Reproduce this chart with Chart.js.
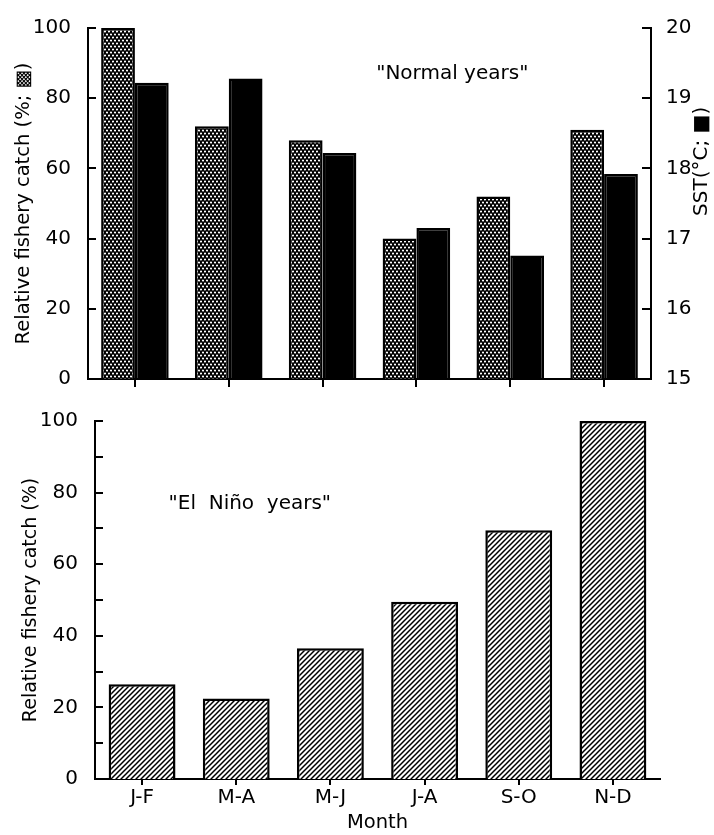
<!DOCTYPE html>
<html>
<head>
<meta charset="utf-8">
<script src="https://cdn.jsdelivr.net/npm/chart.js@4.4.1/dist/chart.umd.min.js"></script>
<style>
html, body { margin: 0; padding: 0; background: #fff; }
#wrap { position: relative; width: 714px; height: 835px; }
#top { position: absolute; left: 0; top: 0; }
#bot { position: absolute; left: 0; top: 400px; }
</style>
</head>
<body>
<div id="wrap">
  <canvas id="top" width="714" height="400"></canvas>
  <canvas id="bot" width="714" height="435"></canvas>
</div>
<script>
// data
const months = ['J-F', 'M-A', 'M-J', 'J-A', 'S-O', 'N-D'];
const normalCatch = [100, 72, 68, 40, 52, 71];          // %, dotted bars
const normalSST = [19.22, 19.28, 18.22, 17.15, 16.76, 17.92]; // deg C, black bars
const ninoCatch = [26.5, 22.5, 36.5, 49.5, 69.5, 100];   // %, hatched bars

Chart.defaults.font.family = 'DejaVu Sans';
Chart.defaults.color = '#000';

function dotPattern() {
  const c = document.createElement('canvas');
  c.width = 4; c.height = 6;
  const g = c.getContext('2d');
  g.fillStyle = '#000';
  g.fillRect(0, 0, 4, 6);
  g.fillStyle = '#fff';
  [[1, 1.5], [3, 4.5]].forEach(p => {
    g.beginPath();
    g.arc(p[0], p[1], 1.1, 0, Math.PI * 2);
    g.fill();
  });
  return g.createPattern(c, 'repeat');
}

function hatchPattern() {
  const s = 5;
  const c = document.createElement('canvas');
  c.width = s; c.height = s;
  const g = c.getContext('2d');
  g.fillStyle = '#fff';
  g.fillRect(0, 0, s, s);
  g.strokeStyle = '#000';
  g.lineWidth = 1.5;
  g.beginPath();
  g.moveTo(0, s); g.lineTo(s, 0);
  g.moveTo(-1, 1); g.lineTo(1, -1);
  g.moveTo(s - 1, s + 1); g.lineTo(s + 1, s - 1);
  g.stroke();
  return g.createPattern(c, 'repeat');
}

// y-axis ticks pointing into the plot
const innerTicks = {
  id: 'innerTicks',
  afterDraw(chart, args, opts) {
    const ctx = chart.ctx;
    ctx.save();
    ctx.strokeStyle = '#000';
    ctx.lineWidth = 2;
    (opts.axes || []).forEach(a => {
      const sc = chart.scales[a.id];
      sc.ticks.forEach(t => {
        const y = Math.round(sc.getPixelForValue(t.value));
        const x0 = a.side === 'left' ? sc.right : sc.left;
        const x1 = a.side === 'left' ? x0 + a.len : x0 - a.len;
        ctx.beginPath();
        ctx.moveTo(x0, y);
        ctx.lineTo(x1, y);
        ctx.stroke();
      });
    });
    ctx.restore();
  }
};

// free text placed through the scales
const notes = {
  id: 'notes',
  afterDraw(chart, args, opts) {
    const ctx = chart.ctx, ca = chart.chartArea;
    (opts.items || []).forEach(n => {
      ctx.save();
      ctx.font = n.font;
      ctx.fillStyle = '#000';
      ctx.textAlign = 'center';
      ctx.textBaseline = 'middle';
      const x = ca.left + n.fx * (ca.right - ca.left);
      const y = chart.scales[n.axis].getPixelForValue(n.v);
      ctx.translate(x, y);
      if (n.rot) ctx.rotate(n.rot);
      ctx.fillText(n.text, 0, 0);
      ctx.restore();
    });
  }
};

const tickFont = { size: 20 };
const blackBorder = { display: true, color: '#000', width: 2 };

new Chart(document.getElementById('top'), {
  type: 'bar',
  data: {
    labels: months,
    datasets: [
      {
        data: normalCatch, yAxisID: 'y',
        backgroundColor: dotPattern(), borderColor: '#000', borderWidth: 2.5
      },
      {
        data: normalSST, yAxisID: 'y1',
        backgroundColor: '#000', borderColor: '#000', borderWidth: 2.5
      }
    ]
  },
  options: {
    responsive: false,
    animation: false,
    categoryPercentage: 0.72,
    barPercentage: 1.0,
    layout: { padding: { top: 28, left: 0, right: 0, bottom: 0 } },
    plugins: {
      legend: { display: false },
      tooltip: { enabled: false },
      innerTicks: { axes: [{ id: 'y', side: 'left', len: 8 }, { id: 'y1', side: 'right', len: 9 }] },
      notes: {
        items: [
          { text: '"Normal years"', font: '20px "DejaVu Sans"', fx: 0.647, axis: 'y', v: 87 },
          { text: 'SST(°C; ■)', font: '20px "DejaVu Sans"', fx: 1.09, axis: 'y1', v: 18.1, rot: -Math.PI / 2 }
        ]
      }
    },
    scales: {
      x: {
        afterFit: s => { s.height = 14; },
        border: blackBorder,
        grid: { display: true, drawOnChartArea: false, drawTicks: true, tickLength: 8, color: '#000', lineWidth: 2, offset: false },
        ticks: { display: false }
      },
      y: {
        position: 'left',
        min: 0, max: 100,
        afterFit: s => { s.width = 88; },
        border: blackBorder,
        grid: { display: false },
        ticks: { stepSize: 20, font: tickFont, padding: 9 },
        title: { display: true, text: 'Relative fishery catch (%; ▩)', font: { size: 19.5 }, padding: { top: 12, bottom: 0 } }
      },
      y1: {
        position: 'right',
        min: 15, max: 20,
        afterFit: s => { s.width = 63; },
        border: blackBorder,
        grid: { display: false },
        ticks: { stepSize: 1, font: tickFont, padding: 7 }
      }
    }
  },
  plugins: [innerTicks, notes]
});

new Chart(document.getElementById('bot'), {
  type: 'bar',
  data: {
    labels: months,
    datasets: [
      {
        data: ninoCatch,
        backgroundColor: hatchPattern(), borderColor: '#000', borderWidth: 2.5
      }
    ]
  },
  options: {
    responsive: false,
    animation: false,
    categoryPercentage: 0.71,
    barPercentage: 1.0,
    layout: { padding: { top: 17, left: 0, right: 54, bottom: 0 } },
    plugins: {
      legend: { display: false },
      tooltip: { enabled: false },
      innerTicks: { axes: [{ id: 'y', side: 'left', len: 8 }] },
      notes: {
        items: [
          { text: '"El  Niño  years"', font: '20px "DejaVu Sans"', fx: 0.274, axis: 'y', v: 77 }
        ]
      }
    },
    scales: {
      x: {
        afterFit: s => { s.height = 56; },
        border: blackBorder,
        grid: { display: true, drawOnChartArea: false, drawTicks: true, tickLength: 6, color: '#000', lineWidth: 2, offset: false },
        ticks: { font: { size: 20 }, padding: 1 },
        title: { display: true, text: 'Month', font: { size: 19.5 }, padding: { top: 0, bottom: 0 } }
      },
      y: {
        min: 0, max: 100,
        afterFit: s => { s.width = 95; },
        border: blackBorder,
        grid: { display: false },
        ticks: {
          stepSize: 10, font: tickFont, padding: 9,
          callback: v => (v % 20 === 0 ? v : '')
        },
        title: { display: true, text: 'Relative fishery catch (%)', font: { size: 19 }, padding: { top: 20, bottom: 0 } }
      }
    }
  },
  plugins: [innerTicks, notes]
});
</script>
</body>
</html>
